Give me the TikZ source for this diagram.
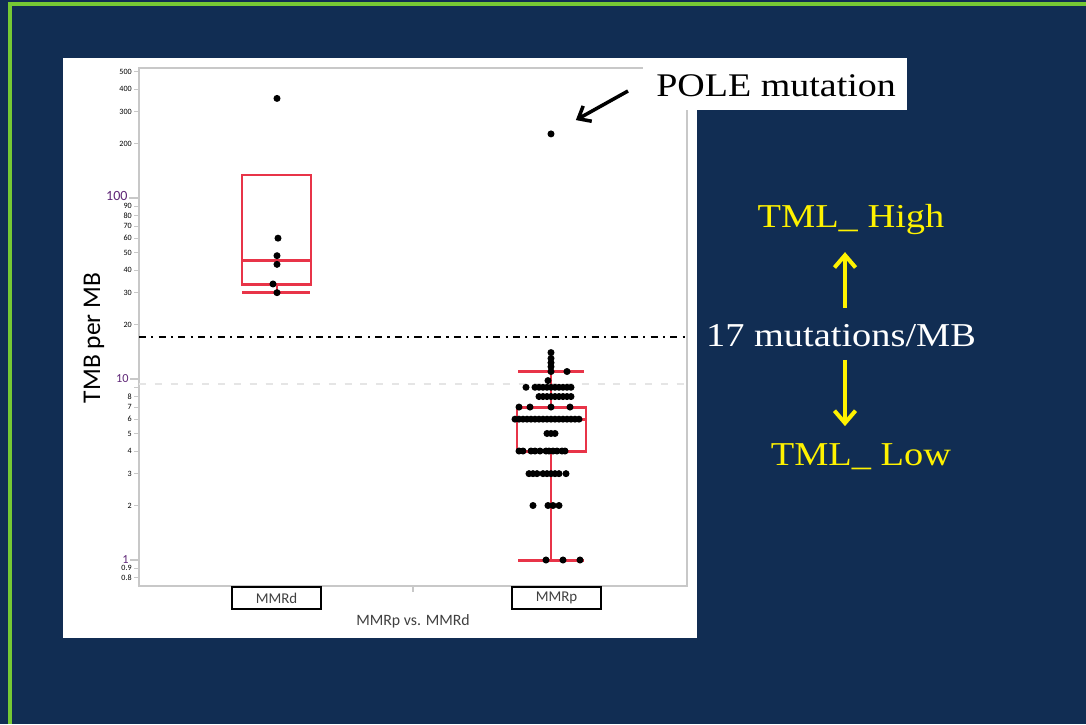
\documentclass[tikz,border=0pt]{standalone}
\usepackage{fontspec}
\usepackage{tikz}
\usetikzlibrary{arrows.meta}
\newfontfamily\slidefont[FakeStretch=1.15]{Liberation Serif}
\newfontfamily\plotfont{Carlito}
\definecolor{slidenavy}{RGB}{17,45,83}
\definecolor{slidegreen}{RGB}{118,200,52}
\definecolor{tmbred}{RGB}{232,52,72}
\definecolor{tickpurple}{RGB}{96,40,120}
\definecolor{framegray}{RGB}{200,200,200}
\definecolor{labelgray}{RGB}{64,64,64}

\begin{document}
\begin{tikzpicture}[x=0.02cm, y=-0.02cm,
  declare function={ly(\v)=560-181*log10(\v);},
  boxline/.style={draw=tmbred, line width=1.7pt},
  tickmark/.style={draw=framegray, line width=0.6pt},
  ticklabel/.style={anchor=east, inner sep=1pt, font=\plotfont\fontsize{4.6}{5}\selectfont},
  biglabel/.style={anchor=east, inner sep=0.5pt, text=tickpurple},
  catbox/.style={draw, line width=1.4pt, minimum width=1.78cm, minimum height=0.44cm,
    inner sep=0pt, text=labelgray, font=\plotfont\fontsize{8.5}{10}\selectfont},
  slidetext/.style={inner sep=0pt, text=yellow, font=\slidefont\fontsize{19}{21}\selectfont},
  yarrow/.style={draw=yellow, line width=2.3pt, -{Straight Barb[length=7pt,width=12pt]}},
  polearrow/.style={draw=black, line width=2pt, -{Straight Barb[length=6pt,width=10pt]}}]

  \path[use as bounding box, fill=slidenavy] (0,0) rectangle (1086,724);
  \draw[slidegreen, line width=1.8pt] (10,724) -- (10,4) -- (1086,4);
  \fill[white] (63,58) rectangle (697,638);

  % plot area
  \draw[framegray, line width=0.85pt] (139,68) rectangle (687,586);
  \draw[black!10, line width=1.1pt, dash pattern=on 4pt off 5pt] (139,{ly(9.4)}) -- (687,{ly(9.4)});
  \draw[black, line width=1.1pt, dash pattern=on 4pt off 3pt on 1.2pt off 3pt] (139,{ly(17)}) -- (687,{ly(17)});

  \foreach \v [count=\i] in {500,400,300,200,90,80,70,60,50,40,30,20,8,7,6,5,4,3,2,0.9,0.8}
    \draw[tickmark] (134,{ly(\v)}) node[ticklabel] (ytick\i) {\v} -- (139,{ly(\v)});
  \draw[tickmark] (134,{ly(9)}) -- (139,{ly(9)});
  \draw[tickmark] (129,{ly(100)}) node[biglabel, yshift=1pt, font=\plotfont\fontsize{8}{9}\selectfont] (ymajA) {100} -- (139,{ly(100)});
  \draw[tickmark] (130,{ly(10)}) node[biglabel, font=\plotfont\fontsize{7}{8}\selectfont] (ymajB) {10} -- (139,{ly(10)});
  \draw[tickmark] (130,{ly(1)}) node[biglabel, font=\plotfont\fontsize{7}{8}\selectfont] (ymajC) {1} -- (139,{ly(1)});
  \draw[tickmark] (413,586) -- (413,592);

  \node[rotate=90, font=\plotfont\fontsize{14.5}{16}\selectfont] (ytitle) at (94,338) {TMB per MB};

  % MMRd
  \draw[boxline] (242,{ly(134)}) rectangle (311,{ly(33.2)});
  \draw[boxline] (242,{ly(45)}) -- (311,{ly(45)});
  \draw[boxline] (277,{ly(33.2)}) -- (277,{ly(30)});
  \draw[boxline] (242,{ly(30)}) -- (310,{ly(30)});
  \foreach \x/\v in {277/355, 278/60, 277/48, 277/43, 273/33.5, 277/30}
    \fill (\x,{ly(\v)}) circle[radius=2pt];

  % MMRp
  \draw[boxline] (517,{ly(7)}) rectangle (586,{ly(4)});
  \draw[boxline] (517,{ly(6)}) -- (586,{ly(6)});
  \draw[boxline] (551,{ly(11)}) -- (551,{ly(7)});
  \draw[boxline] (518,{ly(11)}) -- (584,{ly(11)});
  \draw[boxline] (551,{ly(4)}) -- (551,{ly(1)});
  \draw[boxline] (518,{ly(1)}) -- (584,{ly(1)});
  \foreach \v/\xl in {14/{551}, 13/{551}, 12.3/{551}, 11.7/{551}, 11/{551,567}, 9.8/{548},
      9/{526,535,539,543,547,551,555,559,563,567,571},
      8/{539,543,547,551,555,559,563,567,571},
      7/{519,530,551,570},
      6/{515,519,523,527,531,535,539,543,547,551,555,559,563,567,571,575,579},
      5/{547,551,555},
      4/{519,523,531,535,540,546,549,553,557,562,565},
      3/{529,533,537,543,547,551,555,559,566},
      2/{533,548,553,559},
      1/{546,563,580}}
    {\foreach \x in \xl {\fill (\x,{ly(\v)}) circle[radius=2pt];}}

  \node[circle, fill=black, inner sep=0pt, minimum size=4pt] (poledot) at (551,{ly(226)}) {};
  \fill[white] (643,58) rectangle (907,110);
  \node[inner sep=0pt, anchor=base west, font=\slidefont\fontsize{18.8}{20}\selectfont] (pole) at (656,96) {POLE mutation};
  \coordinate (poletail) at (628,91);
  \draw[polearrow, shorten >=14pt] (poletail) -- (poledot);

  \node[catbox] (mmrd) at (276.5,598) {MMRd};
  \node[catbox] (mmrp) at (556.5,598) {MMRp};
  \node[anchor=base, inner sep=0pt, text=labelgray, font=\plotfont\fontsize{9}{10}\selectfont] (xtitle) at (413,625) {MMRp vs. MMRd};

  % threshold legend
  \node[slidetext, anchor=base] (high) at (851,227) {TML\_ High};
  \node[slidetext, anchor=base, text=white] (cut) at (841,346) {17 mutations/MB};
  \node[slidetext, anchor=base] (low) at (861,465) {TML\_ Low};
  \coordinate (arrowx) at (845,0);
  \draw[yarrow, shorten <=9pt, shorten >=10pt] (cut.north -| arrowx) -- (high.south -| arrowx);
  \draw[yarrow, shorten <=7.5pt, shorten >=9.5pt] (cut.south -| arrowx) -- (low.north -| arrowx);
\end{tikzpicture}
\end{document}
